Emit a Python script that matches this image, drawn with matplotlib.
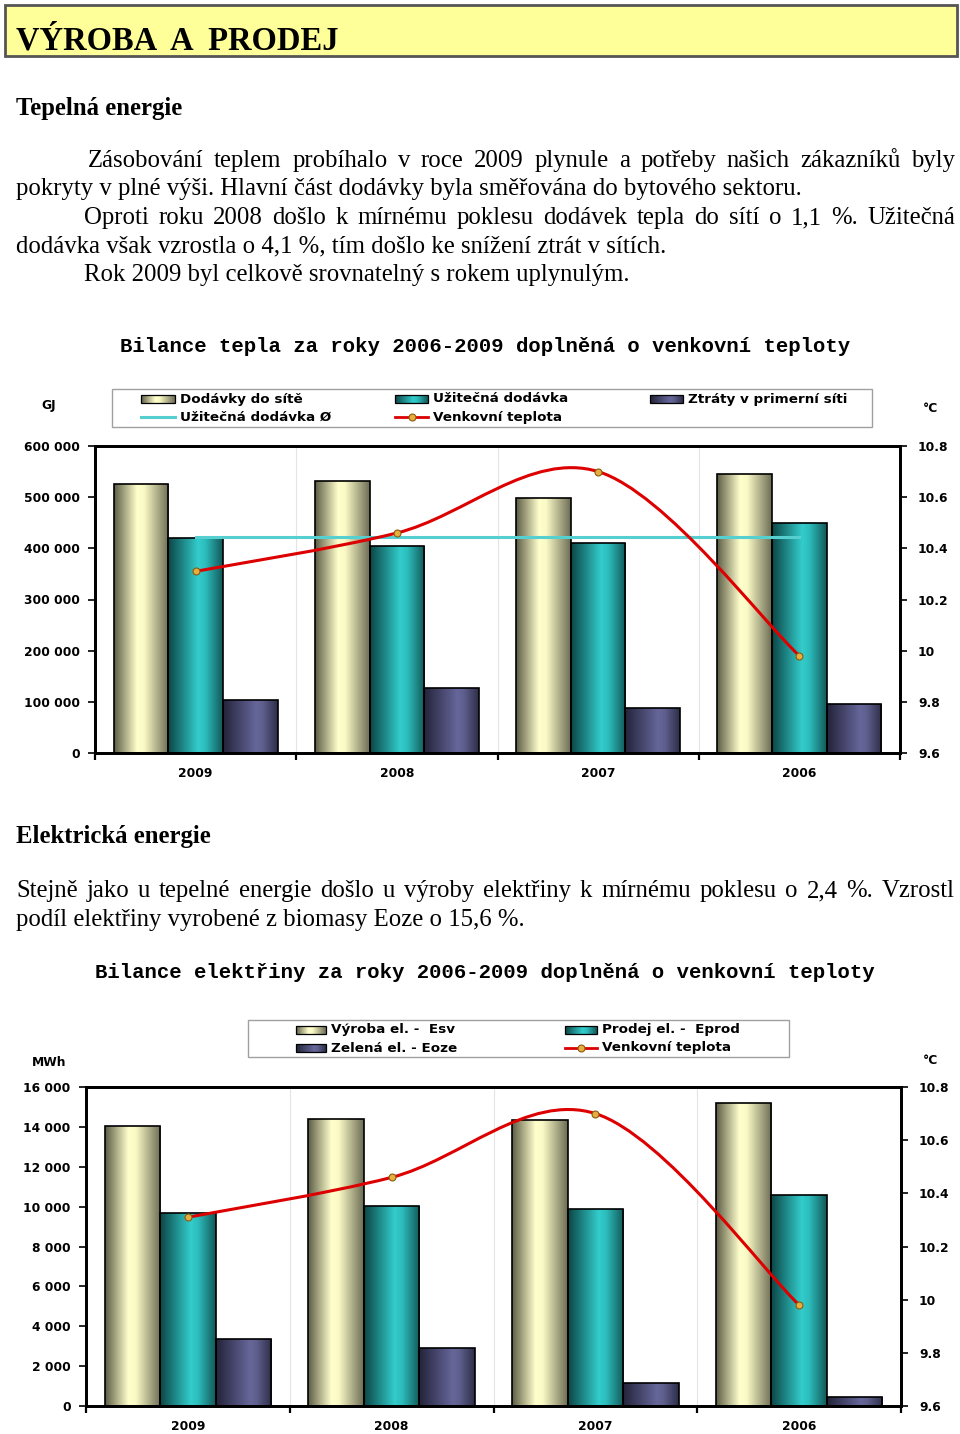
import numpy as np
import matplotlib
matplotlib.use('Agg')
import matplotlib.pyplot as plt
from matplotlib.colors import LinearSegmentedColormap
from matplotlib.patches import Rectangle, PathPatch
from matplotlib.path import Path
from matplotlib.ticker import FuncFormatter, FixedLocator

# data
years = ['2009', '2008', '2007', '2006']
teplota = [10.31, 10.46, 10.70, 9.98]

# teplo (GJ)
dodavky = [525700, 532200, 497800, 545300]
uzitecna = [420800, 404600, 409800, 449500]
ztraty = [103600, 126400, 88500, 95200]

# elektrina (MWh)
vyroba = [14060, 14390, 14360, 15210]
prodej = [9700, 10010, 9890, 10560]
zelena = [3360, 2900, 1170, 450]

W, H = 960, 1434
SERIF = 'Liberation Serif'
MONO = 'Liberation Mono'
SANS = 'DejaVu Sans'
BODY = 17.8
LEG = 9.7

cream = [(0, '#5c5c46'), (0.42, '#ffffcc'), (0.55, '#fafac6'), (1, '#6c6c55')]
teal = [(0, '#0c4545'), (0.55, '#33cccc'), (0.68, '#2dbdbd'), (1, '#135858')]
purple = [(0, '#23233a'), (0.6, '#66669a'), (0.72, '#60608f'), (1, '#2d2d48')]
RED = '#dd0000'
CYAN = '#55cfd0'

fig = plt.figure(figsize=(W / 100, H / 100), dpi=100)

# overlay in pixel coordinates for text, legends, title box
ov = fig.add_axes([0, 0, 1, 1])
ov.set_xlim(0, W)
ov.set_ylim(H, 0)
ov.axis('off')


def grad(ax, patch, stops, z):
    x0, y0 = patch.get_x(), patch.get_y()
    w, h = patch.get_width(), patch.get_height()
    cmap = LinearSegmentedColormap.from_list('g', stops)
    im = ax.imshow(np.linspace(0, 1, 256)[None, :], cmap=cmap, aspect='auto',
                   extent=(x0, x0 + w, y0, y0 + h), zorder=z, interpolation='bilinear')
    im.set_clip_path(patch)


def smooth_path(xs, ys):
    pts = np.column_stack([xs, ys]).astype(float)
    n = len(pts)
    verts, codes = [pts[0]], [Path.MOVETO]
    for i in range(n - 1):
        p0, p1, p2, p3 = pts[max(i - 1, 0)], pts[i], pts[i + 1], pts[min(i + 2, n - 1)]
        verts += [p1 + (p2 - p0) / 6, p2 - (p3 - p1) / 6, p2]
        codes += [Path.CURVE4] * 3
    return Path(verts, codes)


def chart(rect, series, stops, temps, ymax, ystep, avg=None):
    ax = fig.add_axes(rect)
    x = np.arange(len(years))
    bw = 0.272
    for k, (vals, st) in enumerate(zip(series, stops)):
        bars = ax.bar(x + (k - 1) * bw, vals, bw, facecolor='none', edgecolor='black',
                      linewidth=1.2, zorder=3)
        for b in bars:
            grad(ax, b, st, 2)
    if avg is not None:
        ax.plot([x[0], x[-1]], [avg, avg], color=CYAN, lw=2.2, zorder=4)
    ax.set_xlim(-0.5, len(years) - 0.5)
    ax.set_ylim(0, ymax)
    ax.yaxis.set_major_locator(FixedLocator(np.arange(0, ymax + 1, ystep)))
    ax.yaxis.set_major_formatter(FuncFormatter(lambda v, p: f'{int(v):,}'.replace(',', ' ')))
    ax.xaxis.set_major_locator(FixedLocator(np.arange(-0.5, len(years), 1)))
    ax.xaxis.set_minor_locator(FixedLocator(x))
    ax.set_xticklabels([], minor=False)
    ax.set_xticklabels(years, minor=True)
    ax.tick_params(axis='x', which='minor', length=0, pad=10)
    ax.tick_params(axis='x', which='major', length=5, width=1.6, direction='out')
    ax.tick_params(axis='y', length=5, width=1.2, direction='out', pad=6)
    ax.grid(axis='x', which='major', color='#e4e4e4', lw=0.8, zorder=0)
    for s in ax.spines.values():
        s.set_linewidth(2)
    for lab in ax.get_yticklabels() + ax.get_xticklabels(minor=True):
        lab.set_fontfamily(SANS)
        lab.set_fontweight('bold')
        lab.set_fontsize(8.8)

    ax2 = ax.twinx()
    ax2.set_ylim(9.6, 10.8)
    ax2.yaxis.set_major_locator(FixedLocator(np.arange(9.6, 10.81, 0.2)))
    ax2.yaxis.set_major_formatter(FuncFormatter(lambda v, p: '10' if abs(v - 10) < 1e-6 else f'{v:.1f}'))
    ax2.tick_params(axis='y', length=5, width=1.2, direction='out', pad=8)
    for s in ax2.spines.values():
        s.set_linewidth(2)
    for lab in ax2.get_yticklabels():
        lab.set_fontfamily(SANS)
        lab.set_fontweight('bold')
        lab.set_fontsize(8.8)
    ax2.add_patch(PathPatch(smooth_path(x, temps), fill=False, ec=RED, lw=2.2, zorder=5))
    ax2.plot(x, temps, 'o', ms=5, mfc='#e6ae3c', mec='#8a5a10', mew=0.8, zorder=6)
    return ax, ax2


# title box
ov.add_patch(Rectangle((5, 5), 952, 51, facecolor='#ffff99', edgecolor='#555555', lw=2))
ov.text(16, 50, 'VÝROBA  A  PRODEJ', family=SERIF, weight='bold', fontsize=23.5, va='baseline')

ov.text(16, 115, 'Tepelná energie', family=SERIF, weight='bold', fontsize=17.8, va='baseline')

renderer = fig.canvas.get_renderer()


def justify(line, x0, x1, yb, size=BODY):
    words = line.split()
    ts = [ov.text(0, yb, w, family=SERIF, fontsize=size, va='baseline') for w in words]
    ws = [t.get_window_extent(renderer).width for t in ts]
    gap = (x1 - x0 - sum(ws)) / (len(words) - 1)
    xx = x0
    for t, w in zip(ts, ws):
        t.set_x(xx)
        xx += w + gap


def plain(line, x0, yb, size=BODY):
    ov.text(x0, yb, line, family=SERIF, fontsize=size, va='baseline')


justify('Zásobování teplem probíhalo v roce 2009 plynule a potřeby našich zákazníků byly', 88, 955, 167)
plain('pokryty v plné výši. Hlavní část dodávky byla směřována do bytového sektoru.', 16, 195)
justify('Oproti roku 2008 došlo k mírnému poklesu dodávek tepla do sítí o 1,1 %. Užitečná', 84, 955, 224)
plain('dodávka však vzrostla o 4,1 %, tím došlo ke snížení ztrát v sítích.', 16, 252)
plain('Rok 2009 byl celkově srovnatelný s rokem uplynulým.', 84, 281)

ov.text(485, 346, 'Bilance tepla za roky 2006-2009 doplněná o venkovní teploty', family=MONO,
        weight='bold', fontsize=14.9, ha='center', va='center')

ov.text(16, 843, 'Elektrická energie', family=SERIF, weight='bold', fontsize=17.8, va='baseline')
justify('Stejně jako u tepelné energie došlo u výroby elektřiny k mírnému poklesu o 2,4 %. Vzrostl', 16, 955, 897)
plain('podíl elektřiny vyrobené z biomasy Eoze o 15,6 %.', 16, 926)

ov.text(485, 973, 'Bilance elektřiny za roky 2006-2009 doplněná o venkovní teploty', family=MONO,
        weight='bold', fontsize=14.9, ha='center', va='center')


# legends
def swatch(x0, x1, yc, stops):
    r = Rectangle((x0, yc - 4), x1 - x0, 8, facecolor='none', edgecolor='black', lw=0.9, zorder=3)
    ov.add_patch(r)
    grad(ov, r, stops, 2)


def leg_text(x, y, s):
    ov.text(x, y, s, family=SANS, weight='bold', fontsize=LEG, va='center')


def temp_handle(x0, x1, y):
    ov.plot([x0, x1], [y, y], color=RED, lw=2)
    ov.plot([(x0 + x1) / 2], [y], 'o', ms=5, mfc='#e6ae3c', mec='#8a5a10', mew=0.8)


ov.add_patch(Rectangle((112, 389), 760, 38, facecolor='white', edgecolor='#a0a0a0', lw=1))
swatch(141, 175, 399, cream); leg_text(180, 399, 'Dodávky do sítě')
swatch(395, 428, 399, teal); leg_text(433, 399, 'Užitečná dodávka')
swatch(650, 683, 399, purple); leg_text(688, 399, 'Ztráty v primerní síti')
ov.plot([141, 175], [417, 417], color=CYAN, lw=2.2); leg_text(180, 417, 'Užitečná dodávka Ø')
temp_handle(395, 428, 417); leg_text(433, 417, 'Venkovní teplota')
ov.text(49, 406, 'GJ', family=SANS, weight='bold', fontsize=8.8, ha='center', va='center')
ov.text(931, 409, '°C', family=SANS, weight='bold', fontsize=8.8, ha='center', va='center')

ov.add_patch(Rectangle((248, 1020), 541, 37, facecolor='white', edgecolor='#a0a0a0', lw=1))
swatch(296, 326, 1030, cream); leg_text(331, 1030, 'Výroba el. -  Esv')
swatch(565, 597, 1030, teal); leg_text(602, 1030, 'Prodej el. -  Eprod')
swatch(296, 326, 1048, purple); leg_text(331, 1048, 'Zelená el. - Eoze')
temp_handle(565, 597, 1048); leg_text(602, 1048, 'Venkovní teplota')
ov.text(49, 1062, 'MWh', family=SANS, weight='bold', fontsize=8.8, ha='center', va='center')
ov.text(931, 1061, '°C', family=SANS, weight='bold', fontsize=8.8, ha='center', va='center')

ov.set_xlim(0, W)
ov.set_ylim(H, 0)

# charts
chart([95 / W, 1 - 753 / H, 805 / W, 307 / H], [dodavky, uzitecna, ztraty],
      [cream, teal, purple], teplota, 600000, 100000, avg=np.mean(uzitecna))
chart([86 / W, 1 - 1406 / H, 815 / W, 319 / H], [vyroba, prodej, zelena],
      [cream, teal, purple], teplota, 16000, 2000)

fig.savefig('out.png', dpi=100)
